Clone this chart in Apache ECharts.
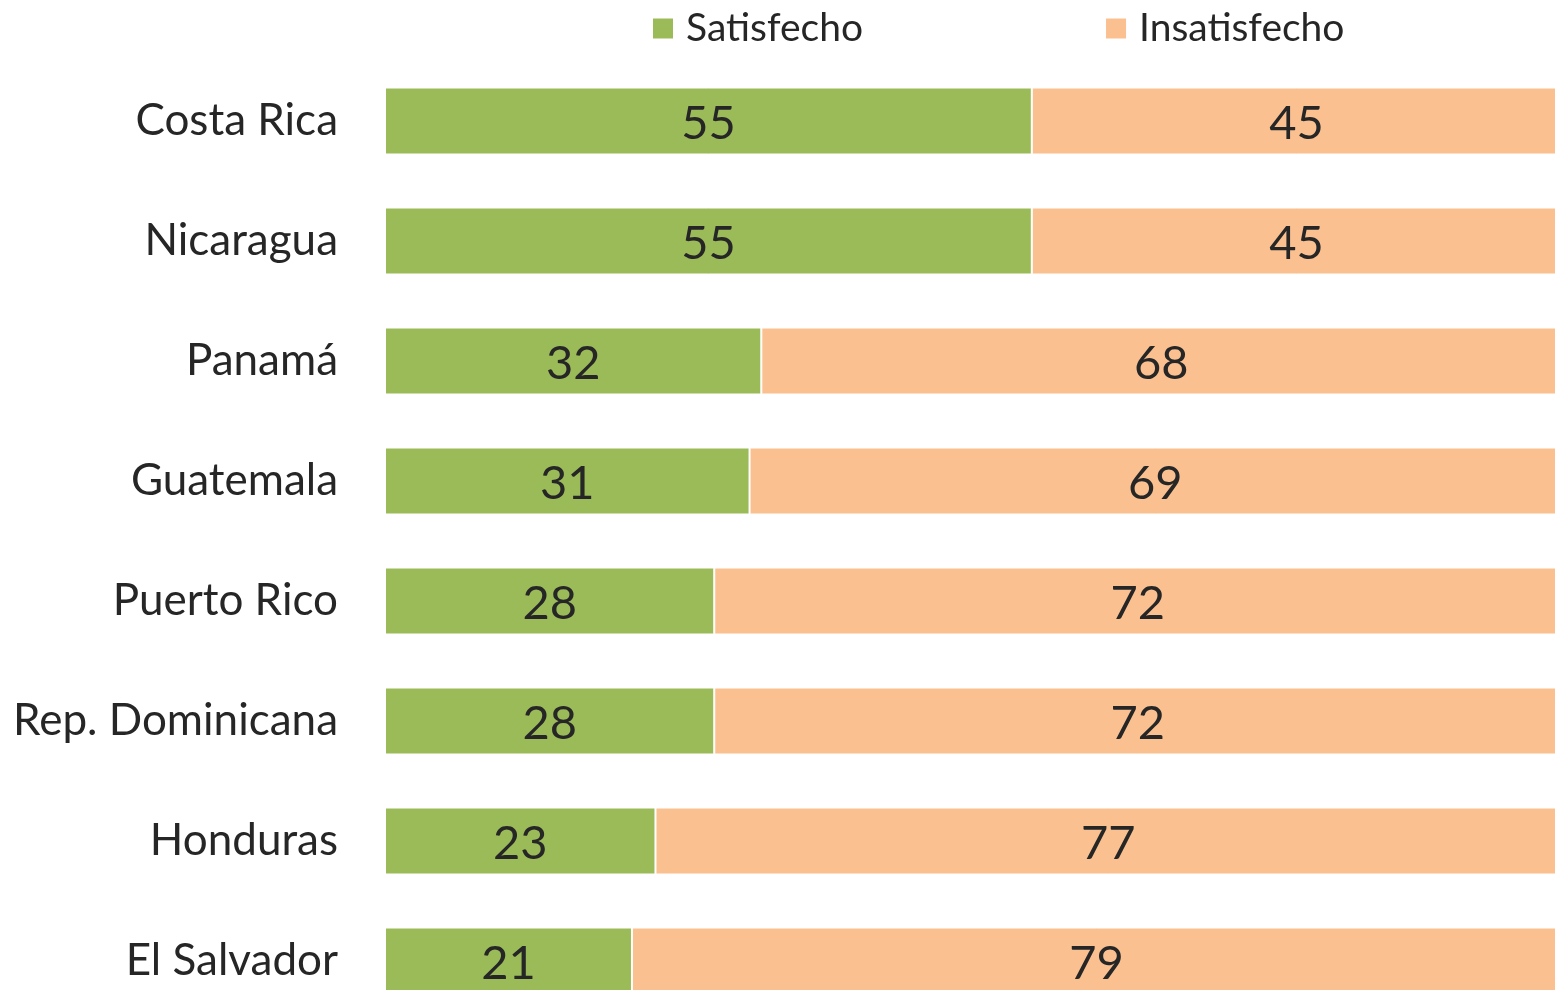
<!DOCTYPE html>
<html><head><meta charset="utf-8">
<script src="https://cdn.jsdelivr.net/npm/echarts@6/dist/echarts.min.js"></script>
<style>html,body{margin:0;padding:0;background:#fff;overflow:hidden}#c{width:1565px;height:1030px}</style>
</head><body><div id="c"></div>
<script>
const categories = ["Costa Rica","Nicaragua","Panamá","Guatemala","Puerto Rico","Rep. Dominicana","Honduras","El Salvador"];
const satisfecho = [55,55,32,31,28,28,23,21];
const insatisfecho = [45,45,68,69,72,72,77,79];
const seriesNames = ["Satisfecho","Insatisfecho"];
const FONT = "Lato, 'Open Sans', sans-serif";
const chart = echarts.init(document.getElementById('c'));
const lbl = {show:true, position:'inside', color:'#262626', fontSize:47, fontFamily:FONT, offset:[0,3]};
chart.setOption({
  animation:false,
  legend:{data:seriesNames, left:646, top:4, itemWidth:22, itemHeight:22, itemGap:241,
    textStyle:{fontSize:39, fontFamily:FONT, color:'#262626', padding:[2,0,0,7]}, icon:'rect'},
  grid:{left:385, width:1176, top:61, height:960},
  xAxis:{type:'value', min:0, max:100, show:false},
  yAxis:{type:'category', data:categories, inverse:true, axisLine:{show:false}, axisTick:{show:false},
    axisLabel:{fontSize:44, fontFamily:FONT, color:'#262626', margin:47}},
  series:[
    {name:seriesNames[0], type:'bar', stack:'a', data:satisfecho, barWidth:67,
     itemStyle:{color:'#9BBB59', borderColor:'#fff', borderWidth:1}, label:lbl},
    {name:seriesNames[1], type:'bar', stack:'a', data:insatisfecho, barWidth:67,
     itemStyle:{color:'#FAC090', borderColor:'#fff', borderWidth:1}, label:lbl}
  ]
});
</script></body></html>
